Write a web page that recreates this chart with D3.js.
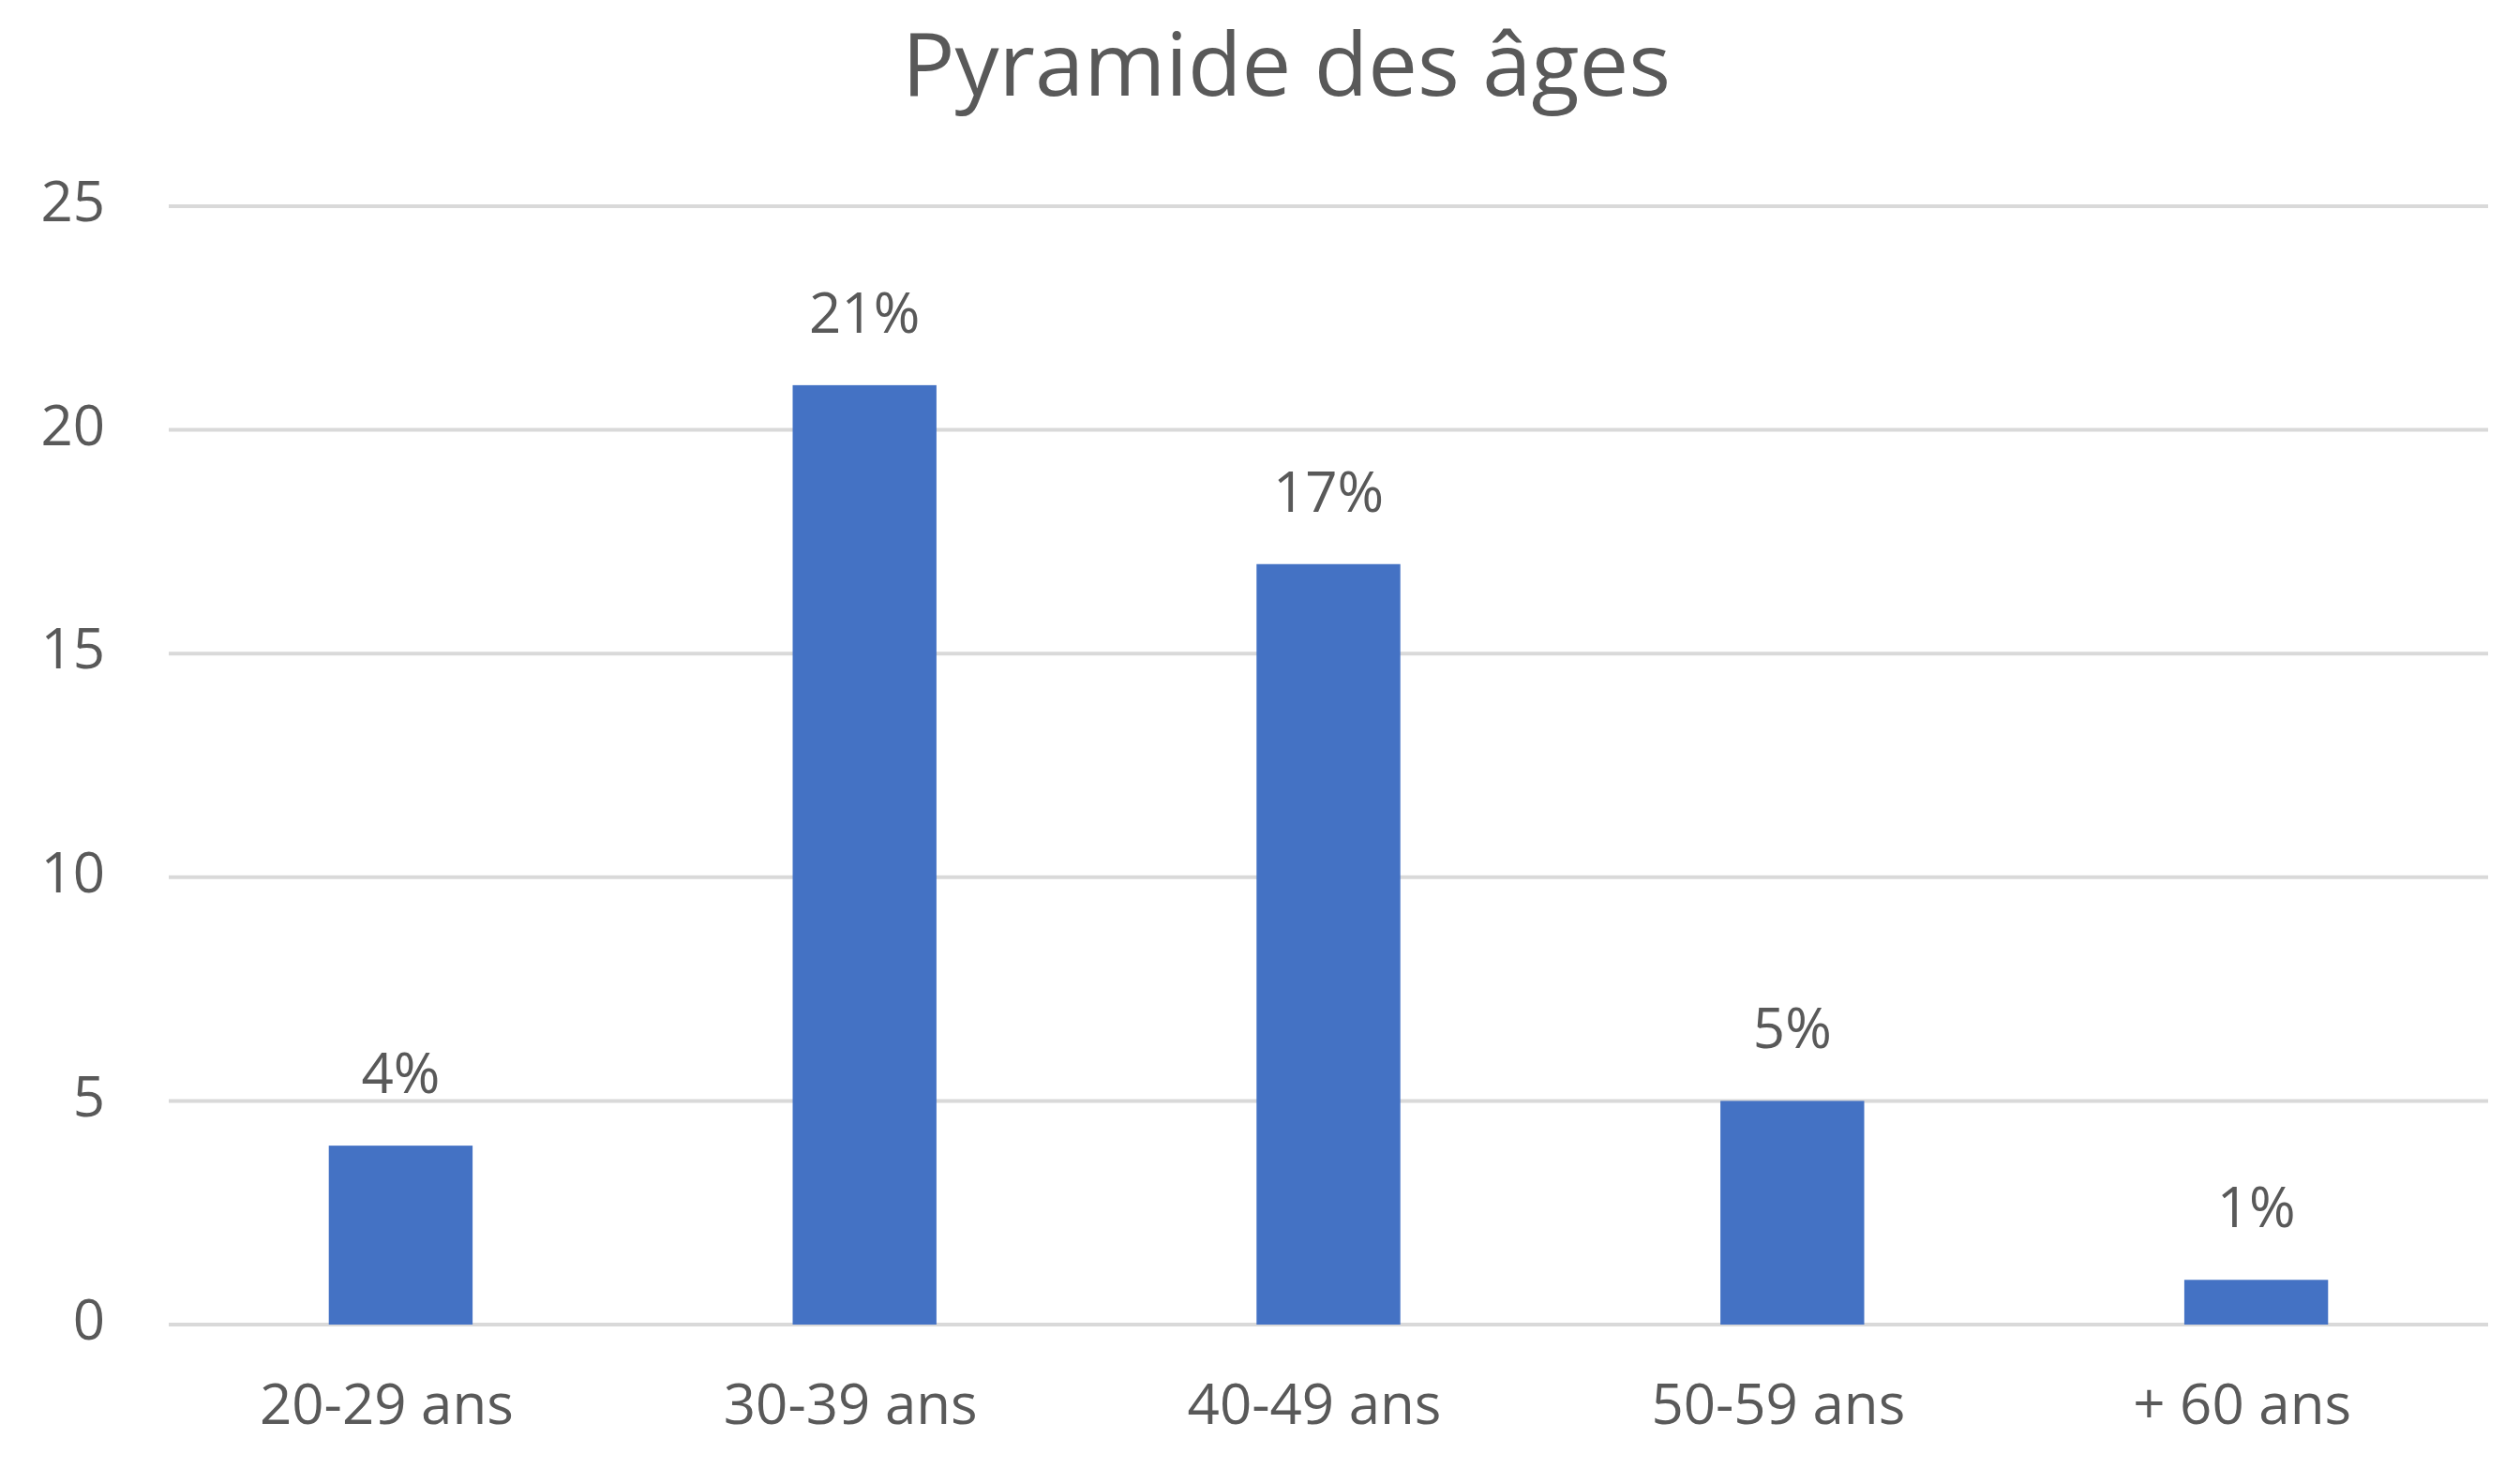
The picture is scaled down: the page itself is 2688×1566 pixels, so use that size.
<!DOCTYPE html>
<html>
<head>
<meta charset="utf-8">
<script src="https://cdn.jsdelivr.net/npm/d3@7"></script>
<style>
  body { margin: 0; background: #fff; }
  text { font-family: "Segoe UI", "Open Sans", sans-serif; fill: #595959; }
</style>
</head>
<body>
<div id="chart"></div>
<script>
const categories = ['20-29 ans', '30-39 ans', '40-49 ans', '50-59 ans', '+ 60 ans']
const values = [4, 21, 17, 5, 1]
const labels = ['4%', '21%', '17%', '5%', '1%']
const yTicks = [0, 5, 10, 15, 20, 25]
const title = 'Pyramide des âges'

const width = 2688
const height = 1566
const margin = {top: 220, right: 34, bottom: 153, left: 180}

const svg = d3.select('#chart').append('svg')
  .attr('width', width)
  .attr('height', height)

const x = d3.scaleBand()
  .domain(categories)
  .range([margin.left, width - margin.right])
  .paddingInner(0.69)
  .paddingOuter(0.345)

const y = d3.scaleLinear()
  .domain([0, 25])
  .range([height - margin.bottom, margin.top])

// gridlines
svg.append('g')
  .selectAll('line')
  .data(yTicks)
  .enter()
  .append('line')
  .attr('x1', margin.left)
  .attr('x2', width - margin.right)
  .attr('y1', d => y(d))
  .attr('y2', d => y(d))
  .attr('stroke', '#d9d9d9')
  .attr('stroke-width', 4)

// y axis labels
const yAxis = d3.axisLeft(y).tickValues(yTicks).tickSize(0).tickPadding(0)
svg.append('g')
  .attr('transform', `translate(112,0)`)
  .call(yAxis)
  .call(g => g.select('.domain').remove())
  .selectAll('text')
  .attr('font-size', 60)
  .attr('dy', '0.26em')
  .style('font-family', '"Segoe UI", "Open Sans", sans-serif')
  .attr('fill', '#595959')

// bars
svg.append('g')
  .selectAll('rect')
  .data(values)
  .enter()
  .append('rect')
  .attr('x', (d, i) => x(categories[i]))
  .attr('width', x.bandwidth())
  .attr('y', d => y(d))
  .attr('height', d => y(0) - y(d))
  .attr('fill', '#4472c4')

// value labels
svg.append('g')
  .selectAll('text')
  .data(values)
  .enter()
  .append('text')
  .attr('x', (d, i) => x(categories[i]) + x.bandwidth() / 2)
  .attr('y', d => y(d) - 56)
  .attr('text-anchor', 'middle')
  .attr('font-size', 60)
  .text((d, i) => labels[i])

// x axis labels
const xAxis = d3.axisBottom(x).tickSize(0).tickPadding(0)
svg.append('g')
  .attr('transform', `translate(-15,${height - margin.bottom + 63})`)
  .call(xAxis)
  .call(g => g.select('.domain').remove())
  .selectAll('text')
  .attr('font-size', 60)
  .style('font-family', '"Segoe UI", "Open Sans", sans-serif')
  .attr('fill', '#595959')

// title
svg.append('text')
  .attr('x', 1372)
  .attr('y', 102)
  .attr('text-anchor', 'middle')
  .attr('font-size', 94)
  .text(title)
</script>
</body>
</html>
